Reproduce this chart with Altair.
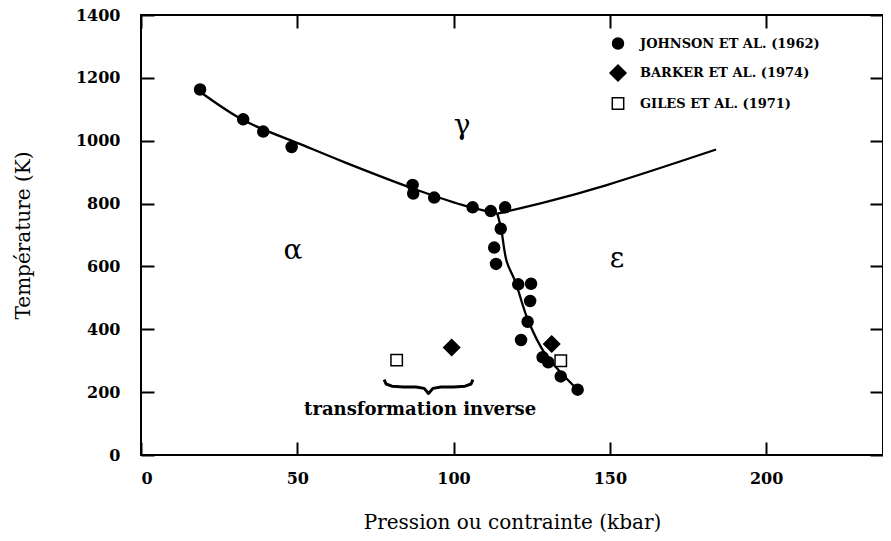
import altair as alt
import pandas as pd

# ---- data ----
series_names = ["JOHNSON ET AL. (1962)", "BARKER ET AL. (1974)", "GILES ET AL. (1971)"]
series_shapes = ["circle", "diamond", "square"]
series_fills = ["black", "black", "white"]

johnson_p = [18.9, 32.7, 39.1, 48.2, 86.9, 87.1, 93.8, 106.1, 111.9, 116.5, 115.1,
             113.0, 113.6, 120.7, 124.8, 124.5, 123.7, 121.6, 128.5, 130.3, 134.3, 139.7]
johnson_t = [1163, 1068, 1029, 980, 859, 832, 819, 788, 776, 788, 720,
             660, 608, 543, 545, 490, 424, 366, 311, 295, 250, 208]
barker_p = [99.4, 131.4]
barker_t = [342, 353]
giles_p = [81.8, 134.3]
giles_t = [302, 300]

# phase boundaries
alpha_gamma_p = [19, 33, 52, 65, 87, 103, 114]
alpha_gamma_t = [1155, 1064, 985, 932, 848, 795, 768]
gamma_eps_p = [114, 130, 149, 184]
gamma_eps_t = [768, 806, 859, 972]
alpha_eps_p = [114, 115.2, 117, 119.7, 123.9, 129.3, 139.7]
alpha_eps_t = [768, 721, 616, 553, 427, 322, 208]

# annotations
phase_labels = ["α", "γ", "ε"]
phase_p = [48.6, 102.7, 152.3]
phase_t = [648, 1046, 623]
note_text = ["transformation inverse"]
note_p = [89.3]
note_t = [142]
brace_p = [77.8, 78.4, 80.3, 84, 88, 90.6, 92, 93.4, 96, 100, 103.7, 105.6, 106.2]
brace_t = [240, 226, 219, 216.5, 216.5, 212, 196, 212, 216.5, 216.5, 219, 226, 240]

x_ticks = [0, 50, 100, 150, 200]
y_ticks = [0, 200, 400, 600, 800, 1000, 1200, 1400]
x_max = 237.4

# ---- tables ----
pts = pd.concat([
    pd.DataFrame({"p": johnson_p, "t": johnson_t, "src": series_names[0]}),
    pd.DataFrame({"p": barker_p, "t": barker_t, "src": series_names[1]}),
    pd.DataFrame({"p": giles_p, "t": giles_t, "src": series_names[2]}),
], ignore_index=True)

curves = []
for name, ps, ts in [("ag", alpha_gamma_p, alpha_gamma_t),
                     ("ge", gamma_eps_p, gamma_eps_t),
                     ("ae", alpha_eps_p, alpha_eps_t)]:
    for i, (p, t) in enumerate(zip(ps, ts)):
        curves.append({"seg": name, "i": i, "p": p, "t": t})
curves = pd.DataFrame(curves)

brace = pd.DataFrame({"p": brace_p, "t": brace_t, "i": list(range(len(brace_p)))})
greek = pd.DataFrame({"lab": phase_labels, "p": phase_p, "t": phase_t})
note = pd.DataFrame({"lab": note_text, "p": note_p, "t": note_t})

FONT = "DejaVu Serif"

xscale = alt.Scale(domain=[0, x_max], nice=False, zero=False)
yscale = alt.Scale(domain=[0, 1400], nice=False, zero=False)

x_bottom = alt.Axis(orient="bottom", values=x_ticks, format="d", offset=-13, tickSize=13,
                    domain=False, grid=False, tickWidth=2, tickColor="black", labelPadding=15,
                    labelFont=FONT, labelFontSize=16, labelFontWeight="bold", labelColor="black",
                    title="Pression ou contrainte (kbar)", titleFont=FONT, titleFontSize=20,
                    titleFontWeight="normal", titleColor="black", titlePadding=26)
y_left = alt.Axis(orient="left", values=y_ticks, format="d", offset=-13, tickSize=13,
                  domain=False, grid=False, tickWidth=2, tickColor="black", labelPadding=21,
                  labelFont=FONT, labelFontSize=16, labelFontWeight="bold", labelColor="black",
                  title="Température (K)", titleFont=FONT, titleFontSize=20,
                  titleFontWeight="normal", titleColor="black", titlePadding=42)
x_top = alt.Axis(orient="top", values=x_ticks, offset=-13, tickSize=13, domain=False,
                 grid=False, tickWidth=2, tickColor="black", labels=False, title=None)
y_right = alt.Axis(orient="right", values=y_ticks, offset=-13, tickSize=13, domain=False,
                   grid=False, tickWidth=2, tickColor="black", labels=False, title=None)

points = alt.Chart(pts).mark_point(filled=True, opacity=1, stroke="black", strokeWidth=1.5).encode(
    x=alt.X("p:Q", scale=xscale, axis=x_bottom),
    y=alt.Y("t:Q", scale=yscale, axis=y_left),
    shape=alt.Shape("src:N",
                    scale=alt.Scale(type="ordinal", domain=series_names, range=series_shapes),
                    legend=alt.Legend(title=None, orient="none", legendX=468, legendY=22,
                                      labelFont=FONT, labelFontSize=13, labelFontWeight="bold",
                                      labelColor="black", labelLimit=0, rowPadding=10,
                                      labelOffset=13,
                                      symbolStrokeColor="black", symbolStrokeWidth=1.5)),
    fill=alt.Fill("src:N",
                  scale=alt.Scale(type="ordinal", domain=series_names, range=series_fills)),
    size=alt.Size("src:N",
                  scale=alt.Scale(type="ordinal", domain=series_names, range=[121, 256, 130])),
)

lines = alt.Chart(curves).mark_line(color="black", strokeWidth=2.3, interpolate="catmull-rom").encode(
    x=alt.X("p:Q", scale=xscale, axis=x_top),
    y=alt.Y("t:Q", scale=yscale, axis=y_right),
    detail="seg:N",
    order="i:Q",
)

brace_line = alt.Chart(brace).mark_line(color="black", strokeWidth=3, strokeJoin="round").encode(
    x=alt.X("p:Q", scale=xscale, axis=None),
    y=alt.Y("t:Q", scale=yscale, axis=None),
    order="i:Q",
)

greek_text = alt.Chart(greek).mark_text(font=FONT, fontSize=28, color="black").encode(
    x=alt.X("p:Q", scale=xscale, axis=None),
    y=alt.Y("t:Q", scale=yscale, axis=None),
    text="lab:N",
)

note_label = alt.Chart(note).mark_text(font=FONT, fontSize=18, fontWeight="bold", color="black").encode(
    x=alt.X("p:Q", scale=xscale, axis=None),
    y=alt.Y("t:Q", scale=yscale, axis=None),
    text="lab:N",
)

chart = alt.layer(lines, brace_line, points, greek_text, note_label).resolve_axis(
    x="independent", y="independent"
).properties(
    width=742, height=440,
    background="white",
    autosize=alt.AutoSizeParams(type="none"),
    padding={"left": 133, "top": 7, "right": 0, "bottom": 78},
).configure_view(stroke="black", strokeWidth=2)

chart.save("out.html", embed_options={"renderer": "svg", "actions": False})
